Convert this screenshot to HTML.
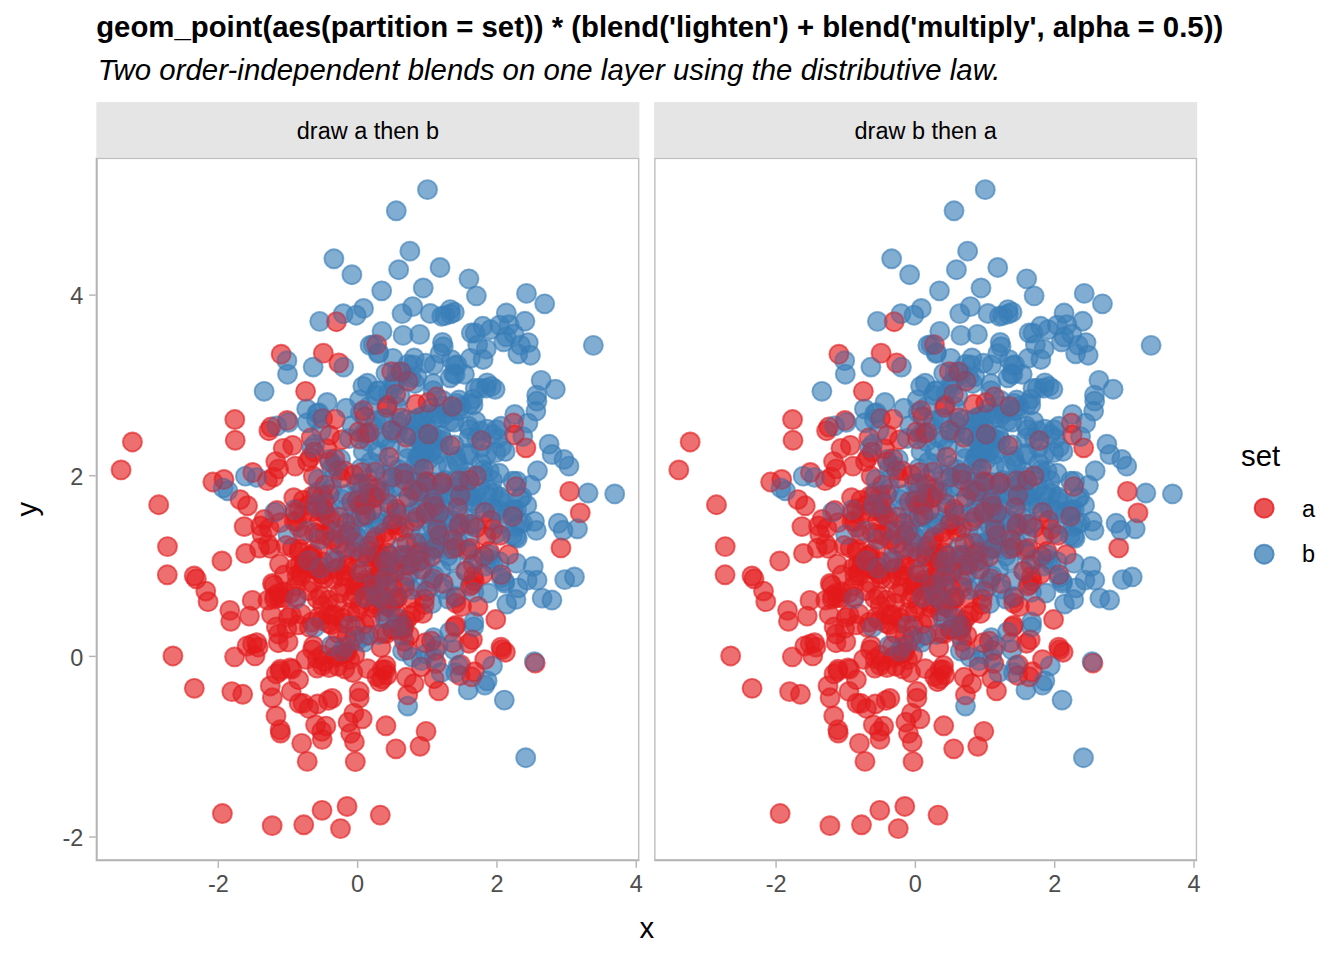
<!DOCTYPE html>
<html><head><meta charset="utf-8"><title>ggblend</title>
<style>
html,body{margin:0;padding:0;background:#fff;}
svg{display:block}
text{font-family:"Liberation Sans",Arial,sans-serif;}
.pa circle{fill:#E41A1C;stroke:#E41A1C;fill-opacity:.5;stroke-opacity:.5;stroke-width:1.89}
.pb circle{fill:#377EB8;stroke:#377EB8;fill-opacity:.5;stroke-opacity:.5;stroke-width:1.89}
.l1,.l2{isolation:isolate}
.l2{opacity:.5}
.lighten{mix-blend-mode:lighten}
.multiply{mix-blend-mode:multiply}
.tick{stroke:#B3B3B3;stroke-width:1.42}
.axl{font-size:23.47px;fill:#4D4D4D}
</style></head><body>
<svg width="1344" height="960" viewBox="0 0 1344 960">
<rect width="1344" height="960" fill="#fff"/>

<defs>
<g id="A" class="pa"><circle cx="177.15" cy="319.44" r="9.48"/><circle cx="280.56" cy="519.00" r="9.48"/><circle cx="336.77" cy="344.28" r="9.48"/><circle cx="97.84" cy="418.25" r="9.48"/><circle cx="291.12" cy="247.38" r="9.48"/><circle cx="296.48" cy="430.37" r="9.48"/><circle cx="221.20" cy="546.30" r="9.48"/><circle cx="223.16" cy="363.96" r="9.48"/><circle cx="221.92" cy="376.36" r="9.48"/><circle cx="199.24" cy="409.97" r="9.48"/><circle cx="227.99" cy="503.81" r="9.48"/><circle cx="191.69" cy="484.15" r="9.48"/><circle cx="207.16" cy="409.52" r="9.48"/><circle cx="265.72" cy="314.62" r="9.48"/><circle cx="328.06" cy="441.30" r="9.48"/><circle cx="253.55" cy="487.09" r="9.48"/><circle cx="225.64" cy="652.62" r="9.48"/><circle cx="197.76" cy="363.74" r="9.48"/><circle cx="202.92" cy="369.79" r="9.48"/><circle cx="429.50" cy="290.14" r="9.48"/><circle cx="270.57" cy="275.91" r="9.48"/><circle cx="227.05" cy="421.30" r="9.48"/><circle cx="230.55" cy="291.10" r="9.48"/><circle cx="293.24" cy="408.26" r="9.48"/><circle cx="212.91" cy="469.47" r="9.48"/><circle cx="160.36" cy="484.99" r="9.48"/><circle cx="301.27" cy="439.72" r="9.48"/><circle cx="189.93" cy="387.84" r="9.48"/><circle cx="260.18" cy="410.86" r="9.48"/><circle cx="196.04" cy="390.24" r="9.48"/><circle cx="338.01" cy="390.41" r="9.48"/><circle cx="228.10" cy="343.84" r="9.48"/><circle cx="211.82" cy="433.05" r="9.48"/><circle cx="226.32" cy="260.68" r="9.48"/><circle cx="147.76" cy="368.85" r="9.48"/><circle cx="179.90" cy="516.18" r="9.48"/><circle cx="109.38" cy="433.37" r="9.48"/><circle cx="167.83" cy="361.79" r="9.48"/><circle cx="240.73" cy="445.51" r="9.48"/><circle cx="228.78" cy="377.22" r="9.48"/><circle cx="362.19" cy="369.15" r="9.48"/><circle cx="186.80" cy="290.66" r="9.48"/><circle cx="201.65" cy="467.24" r="9.48"/><circle cx="241.68" cy="409.91" r="9.48"/><circle cx="191.97" cy="459.65" r="9.48"/><circle cx="193.77" cy="510.18" r="9.48"/><circle cx="184.10" cy="575.37" r="9.48"/><circle cx="174.03" cy="390.72" r="9.48"/><circle cx="224.74" cy="354.05" r="9.48"/><circle cx="226.62" cy="350.65" r="9.48"/><circle cx="135.43" cy="533.92" r="9.48"/><circle cx="220.69" cy="510.41" r="9.48"/><circle cx="183.99" cy="511.45" r="9.48"/><circle cx="190.54" cy="470.58" r="9.48"/><circle cx="249.93" cy="393.01" r="9.48"/><circle cx="300.45" cy="354.69" r="9.48"/><circle cx="376.01" cy="481.99" r="9.48"/><circle cx="207.36" cy="667.08" r="9.48"/><circle cx="373.09" cy="322.24" r="9.48"/><circle cx="180.59" cy="352.81" r="9.48"/><circle cx="306.97" cy="471.68" r="9.48"/><circle cx="438.78" cy="505.35" r="9.48"/><circle cx="258.81" cy="435.48" r="9.48"/><circle cx="214.59" cy="398.62" r="9.48"/><circle cx="260.70" cy="343.06" r="9.48"/><circle cx="385.01" cy="282.83" r="9.48"/><circle cx="181.92" cy="485.05" r="9.48"/><circle cx="356.51" cy="382.12" r="9.48"/><circle cx="353.84" cy="287.88" r="9.48"/><circle cx="284.67" cy="489.79" r="9.48"/><circle cx="261.71" cy="428.50" r="9.48"/><circle cx="229.51" cy="568.37" r="9.48"/><circle cx="235.70" cy="382.42" r="9.48"/><circle cx="306.39" cy="466.29" r="9.48"/><circle cx="405.43" cy="491.92" r="9.48"/><circle cx="250.55" cy="478.83" r="9.48"/><circle cx="164.36" cy="368.24" r="9.48"/><circle cx="210.83" cy="603.69" r="9.48"/><circle cx="279.22" cy="446.81" r="9.48"/><circle cx="239.15" cy="499.94" r="9.48"/><circle cx="248.85" cy="495.28" r="9.48"/><circle cx="249.39" cy="365.51" r="9.48"/><circle cx="165.65" cy="376.61" r="9.48"/><circle cx="249.13" cy="418.05" r="9.48"/><circle cx="320.45" cy="359.83" r="9.48"/><circle cx="309.82" cy="462.76" r="9.48"/><circle cx="299.54" cy="591.12" r="9.48"/><circle cx="233.18" cy="304.12" r="9.48"/><circle cx="247.89" cy="429.22" r="9.48"/><circle cx="178.03" cy="441.36" r="9.48"/><circle cx="257.53" cy="394.16" r="9.48"/><circle cx="279.01" cy="339.21" r="9.48"/><circle cx="380.06" cy="369.90" r="9.48"/><circle cx="330.99" cy="324.63" r="9.48"/><circle cx="226.71" cy="404.21" r="9.48"/><circle cx="286.00" cy="453.93" r="9.48"/><circle cx="182.20" cy="435.52" r="9.48"/><circle cx="322.40" cy="334.06" r="9.48"/><circle cx="329.00" cy="485.08" r="9.48"/><circle cx="408.98" cy="494.51" r="9.48"/><circle cx="290.10" cy="380.07" r="9.48"/><circle cx="228.17" cy="353.07" r="9.48"/><circle cx="265.83" cy="561.11" r="9.48"/><circle cx="226.23" cy="337.51" r="9.48"/><circle cx="203.70" cy="407.30" r="9.48"/><circle cx="272.86" cy="424.75" r="9.48"/><circle cx="198.80" cy="308.41" r="9.48"/><circle cx="272.95" cy="274.77" r="9.48"/><circle cx="285.96" cy="512.01" r="9.48"/><circle cx="257.60" cy="317.01" r="9.48"/><circle cx="247.58" cy="465.47" r="9.48"/><circle cx="216.02" cy="396.43" r="9.48"/><circle cx="183.93" cy="364.95" r="9.48"/><circle cx="320.39" cy="396.35" r="9.48"/><circle cx="262.79" cy="540.50" r="9.48"/><circle cx="319.12" cy="454.12" r="9.48"/><circle cx="174.56" cy="269.32" r="9.48"/><circle cx="273.00" cy="392.78" r="9.48"/><circle cx="308.12" cy="483.87" r="9.48"/><circle cx="259.40" cy="467.62" r="9.48"/><circle cx="247.90" cy="312.87" r="9.48"/><circle cx="206.77" cy="377.12" r="9.48"/><circle cx="404.59" cy="489.41" r="9.48"/><circle cx="313.51" cy="407.82" r="9.48"/><circle cx="388.29" cy="354.49" r="9.48"/><circle cx="266.81" cy="252.81" r="9.48"/><circle cx="217.25" cy="488.02" r="9.48"/><circle cx="155.82" cy="442.70" r="9.48"/><circle cx="216.92" cy="318.42" r="9.48"/><circle cx="276.99" cy="449.85" r="9.48"/><circle cx="331.84" cy="276.50" r="9.48"/><circle cx="278.84" cy="314.16" r="9.48"/><circle cx="179.60" cy="558.22" r="9.48"/><circle cx="307.81" cy="370.09" r="9.48"/><circle cx="146.30" cy="536.56" r="9.48"/><circle cx="235.75" cy="540.67" r="9.48"/><circle cx="239.21" cy="402.02" r="9.48"/><circle cx="125.53" cy="403.26" r="9.48"/><circle cx="325.32" cy="411.34" r="9.48"/><circle cx="217.85" cy="294.20" r="9.48"/><circle cx="237.96" cy="381.74" r="9.48"/><circle cx="358.41" cy="469.17" r="9.48"/><circle cx="305.58" cy="397.58" r="9.48"/><circle cx="253.68" cy="454.84" r="9.48"/><circle cx="297.02" cy="414.53" r="9.48"/><circle cx="289.04" cy="512.07" r="9.48"/><circle cx="377.06" cy="418.79" r="9.48"/><circle cx="280.45" cy="399.08" r="9.48"/><circle cx="296.50" cy="471.76" r="9.48"/><circle cx="285.44" cy="404.66" r="9.48"/><circle cx="234.96" cy="466.98" r="9.48"/><circle cx="268.03" cy="466.55" r="9.48"/><circle cx="375.38" cy="426.85" r="9.48"/><circle cx="200.24" cy="364.05" r="9.48"/><circle cx="269.71" cy="426.93" r="9.48"/><circle cx="356.11" cy="391.16" r="9.48"/><circle cx="244.89" cy="320.77" r="9.48"/><circle cx="187.86" cy="434.15" r="9.48"/><circle cx="200.65" cy="417.74" r="9.48"/><circle cx="234.06" cy="362.21" r="9.48"/><circle cx="202.21" cy="522.01" r="9.48"/><circle cx="243.08" cy="359.27" r="9.48"/><circle cx="232.37" cy="456.70" r="9.48"/><circle cx="248.48" cy="511.17" r="9.48"/><circle cx="289.58" cy="568.06" r="9.48"/><circle cx="304.74" cy="472.96" r="9.48"/><circle cx="378.13" cy="514.07" r="9.48"/><circle cx="256.45" cy="514.81" r="9.48"/><circle cx="238.88" cy="261.41" r="9.48"/><circle cx="363.69" cy="517.86" r="9.48"/><circle cx="379.94" cy="318.29" r="9.48"/><circle cx="264.24" cy="359.14" r="9.48"/><circle cx="238.06" cy="488.29" r="9.48"/><circle cx="134.31" cy="463.59" r="9.48"/><circle cx="359.53" cy="445.43" r="9.48"/><circle cx="202.89" cy="391.18" r="9.48"/><circle cx="182.96" cy="439.84" r="9.48"/><circle cx="473.24" cy="333.70" r="9.48"/><circle cx="277.60" cy="434.82" r="9.48"/><circle cx="258.91" cy="603.95" r="9.48"/><circle cx="70.92" cy="417.07" r="9.48"/><circle cx="254.28" cy="575.64" r="9.48"/><circle cx="329.22" cy="323.68" r="9.48"/><circle cx="290.06" cy="475.91" r="9.48"/><circle cx="324.78" cy="509.11" r="9.48"/><circle cx="399.41" cy="461.80" r="9.48"/><circle cx="342.66" cy="355.53" r="9.48"/><circle cx="225.80" cy="581.66" r="9.48"/><circle cx="310.28" cy="385.46" r="9.48"/><circle cx="247.41" cy="496.19" r="9.48"/><circle cx="223.75" cy="409.15" r="9.48"/><circle cx="62.32" cy="347.05" r="9.48"/><circle cx="206.23" cy="356.93" r="9.48"/><circle cx="295.21" cy="272.64" r="9.48"/><circle cx="412.24" cy="396.72" r="9.48"/><circle cx="296.11" cy="471.71" r="9.48"/><circle cx="304.43" cy="213.87" r="9.48"/><circle cx="193.95" cy="435.77" r="9.48"/><circle cx="272.56" cy="335.44" r="9.48"/><circle cx="116.47" cy="324.30" r="9.48"/><circle cx="295.03" cy="367.30" r="9.48"/><circle cx="309.76" cy="279.64" r="9.48"/><circle cx="274.15" cy="427.26" r="9.48"/><circle cx="310.04" cy="519.60" r="9.48"/><circle cx="282.94" cy="440.95" r="9.48"/><circle cx="314.20" cy="457.80" r="9.48"/><circle cx="389.57" cy="378.76" r="9.48"/><circle cx="338.71" cy="492.67" r="9.48"/><circle cx="263.51" cy="346.89" r="9.48"/><circle cx="183.61" cy="513.50" r="9.48"/><circle cx="290.35" cy="249.84" r="9.48"/><circle cx="233.35" cy="277.46" r="9.48"/><circle cx="365.26" cy="448.92" r="9.48"/><circle cx="149.29" cy="395.73" r="9.48"/><circle cx="232.27" cy="442.13" r="9.48"/><circle cx="290.63" cy="517.34" r="9.48"/><circle cx="250.66" cy="648.75" r="9.48"/><circle cx="219.01" cy="410.65" r="9.48"/><circle cx="240.01" cy="411.49" r="9.48"/><circle cx="305.08" cy="260.05" r="9.48"/><circle cx="323.58" cy="588.60" r="9.48"/><circle cx="307.22" cy="468.19" r="9.48"/><circle cx="419.59" cy="328.90" r="9.48"/><circle cx="342.97" cy="377.46" r="9.48"/><circle cx="281.27" cy="397.39" r="9.48"/><circle cx="215.28" cy="464.45" r="9.48"/><circle cx="464.56" cy="390.23" r="9.48"/><circle cx="308.42" cy="429.69" r="9.48"/><circle cx="213.57" cy="398.12" r="9.48"/><circle cx="274.22" cy="460.58" r="9.48"/><circle cx="238.64" cy="301.03" r="9.48"/><circle cx="242.10" cy="312.65" r="9.48"/><circle cx="196.21" cy="287.65" r="9.48"/><circle cx="269.37" cy="441.54" r="9.48"/><circle cx="283.46" cy="435.87" r="9.48"/><circle cx="186.18" cy="440.02" r="9.48"/><circle cx="36.03" cy="284.27" r="9.48"/><circle cx="243.48" cy="435.45" r="9.48"/><circle cx="263.29" cy="399.56" r="9.48"/><circle cx="302.63" cy="373.95" r="9.48"/><circle cx="265.35" cy="347.13" r="9.48"/><circle cx="290.03" cy="432.56" r="9.48"/><circle cx="184.77" cy="196.50" r="9.48"/><circle cx="310.77" cy="492.15" r="9.48"/><circle cx="311.30" cy="537.22" r="9.48"/><circle cx="278.76" cy="404.56" r="9.48"/><circle cx="355.77" cy="248.75" r="9.48"/><circle cx="289.40" cy="403.62" r="9.48"/><circle cx="279.65" cy="398.47" r="9.48"/><circle cx="279.90" cy="330.42" r="9.48"/><circle cx="291.67" cy="417.32" r="9.48"/><circle cx="335.07" cy="399.02" r="9.48"/><circle cx="292.73" cy="299.24" r="9.48"/><circle cx="307.43" cy="399.91" r="9.48"/><circle cx="182.08" cy="476.32" r="9.48"/><circle cx="235.42" cy="372.71" r="9.48"/><circle cx="364.11" cy="506.96" r="9.48"/><circle cx="175.98" cy="540.09" r="9.48"/><circle cx="279.21" cy="419.46" r="9.48"/><circle cx="289.44" cy="507.81" r="9.48"/><circle cx="329.20" cy="355.91" r="9.48"/><circle cx="236.93" cy="421.65" r="9.48"/><circle cx="272.28" cy="477.59" r="9.48"/><circle cx="138.41" cy="261.81" r="9.48"/><circle cx="284.82" cy="418.31" r="9.48"/><circle cx="214.80" cy="279.98" r="9.48"/><circle cx="244.61" cy="418.63" r="9.48"/><circle cx="178.50" cy="438.12" r="9.48"/><circle cx="288.04" cy="374.65" r="9.48"/><circle cx="307.66" cy="315.37" r="9.48"/><circle cx="240.01" cy="164.01" r="9.48"/><circle cx="388.35" cy="501.85" r="9.48"/><circle cx="307.94" cy="424.95" r="9.48"/><circle cx="327.31" cy="311.04" r="9.48"/><circle cx="403.98" cy="377.53" r="9.48"/><circle cx="215.88" cy="425.30" r="9.48"/><circle cx="317.56" cy="526.05" r="9.48"/><circle cx="329.95" cy="433.55" r="9.48"/><circle cx="260.80" cy="425.07" r="9.48"/><circle cx="283.45" cy="415.77" r="9.48"/><circle cx="190.75" cy="262.77" r="9.48"/><circle cx="293.98" cy="450.10" r="9.48"/><circle cx="212.41" cy="550.72" r="9.48"/><circle cx="317.91" cy="363.55" r="9.48"/><circle cx="204.71" cy="418.49" r="9.48"/><circle cx="283.48" cy="426.84" r="9.48"/><circle cx="202.27" cy="350.98" r="9.48"/><circle cx="244.11" cy="670.90" r="9.48"/><circle cx="153.07" cy="458.39" r="9.48"/><circle cx="270.18" cy="422.24" r="9.48"/><circle cx="329.87" cy="353.71" r="9.48"/><circle cx="274.00" cy="431.95" r="9.48"/><circle cx="138.21" cy="499.16" r="9.48"/><circle cx="218.01" cy="374.73" r="9.48"/><circle cx="376.58" cy="406.63" r="9.48"/><circle cx="387.29" cy="398.40" r="9.48"/><circle cx="179.39" cy="303.92" r="9.48"/><circle cx="235.69" cy="457.35" r="9.48"/><circle cx="285.86" cy="521.21" r="9.48"/><circle cx="283.46" cy="523.99" r="9.48"/><circle cx="220.84" cy="500.86" r="9.48"/><circle cx="194.83" cy="533.71" r="9.48"/><circle cx="248.73" cy="412.83" r="9.48"/><circle cx="331.57" cy="244.82" r="9.48"/><circle cx="262.88" cy="417.37" r="9.48"/><circle cx="216.02" cy="338.18" r="9.48"/><circle cx="226.10" cy="507.96" r="9.48"/><circle cx="373.68" cy="428.40" r="9.48"/><circle cx="230.10" cy="357.25" r="9.48"/><circle cx="314.39" cy="440.44" r="9.48"/><circle cx="363.74" cy="337.46" r="9.48"/><circle cx="292.13" cy="345.70" r="9.48"/><circle cx="231.86" cy="465.53" r="9.48"/><circle cx="258.45" cy="478.10" r="9.48"/><circle cx="226.94" cy="195.43" r="9.48"/><circle cx="346.75" cy="425.77" r="9.48"/><circle cx="250.81" cy="407.78" r="9.48"/><circle cx="369.19" cy="413.31" r="9.48"/><circle cx="222.11" cy="459.70" r="9.48"/><circle cx="216.16" cy="492.10" r="9.48"/><circle cx="271.20" cy="510.96" r="9.48"/><circle cx="262.92" cy="325.84" r="9.48"/><circle cx="226.09" cy="497.44" r="9.48"/><circle cx="151.08" cy="348.10" r="9.48"/><circle cx="263.33" cy="281.34" r="9.48"/><circle cx="211.32" cy="303.81" r="9.48"/><circle cx="336.64" cy="420.91" r="9.48"/><circle cx="194.87" cy="457.09" r="9.48"/><circle cx="339.70" cy="505.82" r="9.48"/><circle cx="216.02" cy="410.06" r="9.48"/><circle cx="281.60" cy="429.39" r="9.48"/><circle cx="323.83" cy="394.27" r="9.48"/><circle cx="225.10" cy="462.93" r="9.48"/><circle cx="299.85" cy="351.57" r="9.48"/><circle cx="255.10" cy="343.88" r="9.48"/><circle cx="182.16" cy="311.21" r="9.48"/><circle cx="242.42" cy="205.19" r="9.48"/><circle cx="374.06" cy="390.51" r="9.48"/><circle cx="246.32" cy="460.36" r="9.48"/><circle cx="204.27" cy="415.36" r="9.48"/><circle cx="257.47" cy="555.41" r="9.48"/><circle cx="284.23" cy="396.65" r="9.48"/><circle cx="327.77" cy="446.83" r="9.48"/><circle cx="340.91" cy="371.71" r="9.48"/><circle cx="268.23" cy="432.66" r="9.48"/><circle cx="342.35" cy="533.11" r="9.48"/><circle cx="208.00" cy="405.08" r="9.48"/><circle cx="97.93" cy="530.60" r="9.48"/><circle cx="228.38" cy="327.37" r="9.48"/><circle cx="225.30" cy="573.60" r="9.48"/><circle cx="99.91" cy="421.20" r="9.48"/><circle cx="300.41" cy="367.02" r="9.48"/><circle cx="206.64" cy="545.63" r="9.48"/><circle cx="245.49" cy="282.02" r="9.48"/><circle cx="150.68" cy="488.34" r="9.48"/><circle cx="299.37" cy="454.11" r="9.48"/><circle cx="392.96" cy="393.63" r="9.48"/><circle cx="200.07" cy="438.83" r="9.48"/><circle cx="253.39" cy="501.95" r="9.48"/><circle cx="396.97" cy="371.41" r="9.48"/><circle cx="326.28" cy="455.73" r="9.48"/><circle cx="394.48" cy="362.64" r="9.48"/><circle cx="260.87" cy="453.97" r="9.48"/><circle cx="250.63" cy="494.84" r="9.48"/><circle cx="225.73" cy="416.93" r="9.48"/><circle cx="361.16" cy="349.73" r="9.48"/><circle cx="171.67" cy="386.50" r="9.48"/><circle cx="282.64" cy="413.70" r="9.48"/><circle cx="258.01" cy="584.30" r="9.48"/><circle cx="418.08" cy="277.29" r="9.48"/><circle cx="218.88" cy="411.99" r="9.48"/><circle cx="156.10" cy="486.41" r="9.48"/><circle cx="277.44" cy="426.60" r="9.48"/><circle cx="258.47" cy="384.79" r="9.48"/><circle cx="202.78" cy="545.51" r="9.48"/><circle cx="270.45" cy="343.60" r="9.48"/><circle cx="242.04" cy="386.09" r="9.48"/><circle cx="213.95" cy="299.75" r="9.48"/><circle cx="296.12" cy="319.33" r="9.48"/><circle cx="238.13" cy="456.97" r="9.48"/><circle cx="133.42" cy="452.66" r="9.48"/><circle cx="76.53" cy="498.29" r="9.48"/><circle cx="220.79" cy="441.05" r="9.48"/><circle cx="362.52" cy="323.09" r="9.48"/><circle cx="319.61" cy="246.52" r="9.48"/><circle cx="345.86" cy="324.53" r="9.48"/><circle cx="329.67" cy="573.66" r="9.48"/><circle cx="283.23" cy="334.15" r="9.48"/><circle cx="156.26" cy="314.79" r="9.48"/><circle cx="275.55" cy="352.62" r="9.48"/><circle cx="372.48" cy="485.60" r="9.48"/><circle cx="24.68" cy="312.24" r="9.48"/><circle cx="206.81" cy="342.50" r="9.48"/><circle cx="338.02" cy="348.53" r="9.48"/><circle cx="298.06" cy="442.83" r="9.48"/><circle cx="316.22" cy="331.98" r="9.48"/><circle cx="293.07" cy="398.30" r="9.48"/><circle cx="298.76" cy="414.50" r="9.48"/><circle cx="262.25" cy="274.07" r="9.48"/><circle cx="197.39" cy="339.99" r="9.48"/><circle cx="175.78" cy="667.96" r="9.48"/><circle cx="263.75" cy="446.91" r="9.48"/><circle cx="231.88" cy="542.72" r="9.48"/><circle cx="198.59" cy="355.20" r="9.48"/><circle cx="290.31" cy="448.36" r="9.48"/><circle cx="271.92" cy="326.98" r="9.48"/><circle cx="363.16" cy="366.13" r="9.48"/><circle cx="183.11" cy="406.39" r="9.48"/><circle cx="225.17" cy="416.07" r="9.48"/><circle cx="256.01" cy="441.01" r="9.48"/><circle cx="163.17" cy="390.36" r="9.48"/><circle cx="241.40" cy="508.48" r="9.48"/><circle cx="211.90" cy="347.62" r="9.48"/><circle cx="111.64" cy="443.98" r="9.48"/><circle cx="241.46" cy="475.57" r="9.48"/><circle cx="224.03" cy="437.83" r="9.48"/><circle cx="340.15" cy="239.07" r="9.48"/><circle cx="219.16" cy="567.16" r="9.48"/><circle cx="300.06" cy="439.89" r="9.48"/><circle cx="271.17" cy="398.75" r="9.48"/><circle cx="175.08" cy="456.94" r="9.48"/><circle cx="287.29" cy="445.53" r="9.48"/><circle cx="253.84" cy="373.85" r="9.48"/><circle cx="272.80" cy="388.28" r="9.48"/><circle cx="307.07" cy="469.23" r="9.48"/><circle cx="269.17" cy="357.13" r="9.48"/><circle cx="371.64" cy="392.17" r="9.48"/><circle cx="269.28" cy="346.39" r="9.48"/><circle cx="173.89" cy="528.26" r="9.48"/><circle cx="312.91" cy="477.74" r="9.48"/><circle cx="176.05" cy="425.79" r="9.48"/><circle cx="127.57" cy="321.76" r="9.48"/><circle cx="204.82" cy="456.16" r="9.48"/><circle cx="209.36" cy="501.67" r="9.48"/><circle cx="218.92" cy="338.68" r="9.48"/><circle cx="373.15" cy="366.35" r="9.48"/><circle cx="375.16" cy="519.08" r="9.48"/><circle cx="311.81" cy="223.53" r="9.48"/><circle cx="172.50" cy="273.03" r="9.48"/><circle cx="262.84" cy="533.83" r="9.48"/><circle cx="295.16" cy="213.90" r="9.48"/><circle cx="251.69" cy="564.55" r="9.48"/><circle cx="273.19" cy="399.17" r="9.48"/><circle cx="195.42" cy="511.46" r="9.48"/><circle cx="171.54" cy="442.43" r="9.48"/><circle cx="359.29" cy="439.88" r="9.48"/><circle cx="279.86" cy="379.22" r="9.48"/><circle cx="232.78" cy="509.93" r="9.48"/><circle cx="283.89" cy="657.39" r="9.48"/><circle cx="404.89" cy="417.03" r="9.48"/><circle cx="286.49" cy="475.82" r="9.48"/><circle cx="359.54" cy="389.34" r="9.48"/><circle cx="356.49" cy="485.02" r="9.48"/><circle cx="232.87" cy="336.83" r="9.48"/><circle cx="314.35" cy="405.75" r="9.48"/><circle cx="215.87" cy="353.89" r="9.48"/><circle cx="158.59" cy="498.24" r="9.48"/><circle cx="177.53" cy="427.47" r="9.48"/><circle cx="250.87" cy="377.31" r="9.48"/><circle cx="386.40" cy="416.45" r="9.48"/><circle cx="268.53" cy="258.99" r="9.48"/><circle cx="205.31" cy="585.66" r="9.48"/><circle cx="277.28" cy="340.09" r="9.48"/><circle cx="309.85" cy="407.08" r="9.48"/><circle cx="171.02" cy="322.97" r="9.48"/><circle cx="187.77" cy="417.31" r="9.48"/><circle cx="125.99" cy="655.83" r="9.48"/><circle cx="172.80" cy="370.42" r="9.48"/><circle cx="199.42" cy="428.10" r="9.48"/><circle cx="240.90" cy="497.74" r="9.48"/><circle cx="359.45" cy="467.67" r="9.48"/><circle cx="323.13" cy="403.35" r="9.48"/><circle cx="280.25" cy="186.92" r="9.48"/><circle cx="221.76" cy="391.39" r="9.48"/><circle cx="258.43" cy="496.86" r="9.48"/><circle cx="299.37" cy="236.45" r="9.48"/><circle cx="226.12" cy="447.99" r="9.48"/><circle cx="335.00" cy="483.32" r="9.48"/><circle cx="337.67" cy="521.03" r="9.48"/><circle cx="179.98" cy="469.24" r="9.48"/><circle cx="209.21" cy="233.60" r="9.48"/><circle cx="345.29" cy="326.50" r="9.48"/><circle cx="143.71" cy="341.86" r="9.48"/><circle cx="290.47" cy="395.14" r="9.48"/><circle cx="277.50" cy="382.81" r="9.48"/><circle cx="483.84" cy="355.16" r="9.48"/><circle cx="71.10" cy="388.89" r="9.48"/><circle cx="202.67" cy="394.38" r="9.48"/><circle cx="308.18" cy="322.24" r="9.48"/><circle cx="377.86" cy="423.36" r="9.48"/><circle cx="319.72" cy="385.35" r="9.48"/><circle cx="161.74" cy="489.44" r="9.48"/><circle cx="417.21" cy="265.32" r="9.48"/><circle cx="138.83" cy="282.59" r="9.48"/><circle cx="183.71" cy="572.06" r="9.48"/><circle cx="258.23" cy="427.92" r="9.48"/><circle cx="416.25" cy="358.72" r="9.48"/><circle cx="296.50" cy="364.78" r="9.48"/><circle cx="312.11" cy="339.66" r="9.48"/><circle cx="381.60" cy="448.63" r="9.48"/></g>
<g id="B" class="pb"><circle cx="246.93" cy="156.03" r="9.48"/><circle cx="351.88" cy="441.31" r="9.48"/><circle cx="223.68" cy="381.96" r="9.48"/><circle cx="375.14" cy="368.31" r="9.48"/><circle cx="379.85" cy="346.07" r="9.48"/><circle cx="198.13" cy="352.04" r="9.48"/><circle cx="396.29" cy="276.65" r="9.48"/><circle cx="315.25" cy="431.97" r="9.48"/><circle cx="283.95" cy="365.70" r="9.48"/><circle cx="361.94" cy="368.35" r="9.48"/><circle cx="420.09" cy="351.88" r="9.48"/><circle cx="439.90" cy="372.65" r="9.48"/><circle cx="247.26" cy="209.40" r="9.48"/><circle cx="300.40" cy="248.62" r="9.48"/><circle cx="341.08" cy="296.54" r="9.48"/><circle cx="335.48" cy="445.87" r="9.48"/><circle cx="299.89" cy="53.10" r="9.48"/><circle cx="167.75" cy="233.62" r="9.48"/><circle cx="311.50" cy="206.62" r="9.48"/><circle cx="248.57" cy="488.89" r="9.48"/><circle cx="333.19" cy="338.17" r="9.48"/><circle cx="272.54" cy="248.69" r="9.48"/><circle cx="322.69" cy="283.03" r="9.48"/><circle cx="279.24" cy="263.05" r="9.48"/><circle cx="302.44" cy="264.73" r="9.48"/><circle cx="304.57" cy="357.37" r="9.48"/><circle cx="423.41" cy="340.71" r="9.48"/><circle cx="380.79" cy="401.72" r="9.48"/><circle cx="314.71" cy="219.85" r="9.48"/><circle cx="245.47" cy="493.64" r="9.48"/><circle cx="403.85" cy="343.41" r="9.48"/><circle cx="230.83" cy="244.72" r="9.48"/><circle cx="248.52" cy="336.82" r="9.48"/><circle cx="276.82" cy="187.04" r="9.48"/><circle cx="263.16" cy="242.06" r="9.48"/><circle cx="267.94" cy="396.26" r="9.48"/><circle cx="420.54" cy="323.47" r="9.48"/><circle cx="323.49" cy="317.02" r="9.48"/><circle cx="281.02" cy="293.76" r="9.48"/><circle cx="377.67" cy="365.77" r="9.48"/><circle cx="344.65" cy="373.80" r="9.48"/><circle cx="245.90" cy="341.76" r="9.48"/><circle cx="291.81" cy="235.66" r="9.48"/><circle cx="368.06" cy="216.58" r="9.48"/><circle cx="466.73" cy="372.57" r="9.48"/><circle cx="441.07" cy="313.07" r="9.48"/><circle cx="389.24" cy="408.44" r="9.48"/><circle cx="329.98" cy="386.54" r="9.48"/><circle cx="210.68" cy="373.29" r="9.48"/><circle cx="279.98" cy="436.99" r="9.48"/><circle cx="315.88" cy="499.37" r="9.48"/><circle cx="365.03" cy="248.70" r="9.48"/><circle cx="335.02" cy="281.42" r="9.48"/><circle cx="334.95" cy="393.18" r="9.48"/><circle cx="458.94" cy="231.53" r="9.48"/><circle cx="357.89" cy="154.53" r="9.48"/><circle cx="311.34" cy="548.37" r="9.48"/><circle cx="301.04" cy="214.18" r="9.48"/><circle cx="337.53" cy="207.17" r="9.48"/><circle cx="274.23" cy="304.33" r="9.48"/><circle cx="426.19" cy="365.31" r="9.48"/><circle cx="310.86" cy="417.56" r="9.48"/><circle cx="294.07" cy="397.52" r="9.48"/><circle cx="270.08" cy="375.57" r="9.48"/><circle cx="396.07" cy="508.27" r="9.48"/><circle cx="241.92" cy="376.43" r="9.48"/><circle cx="298.24" cy="228.94" r="9.48"/><circle cx="352.65" cy="386.24" r="9.48"/><circle cx="323.34" cy="176.70" r="9.48"/><circle cx="348.35" cy="322.59" r="9.48"/><circle cx="239.21" cy="308.04" r="9.48"/><circle cx="300.93" cy="275.12" r="9.48"/><circle cx="212.19" cy="402.87" r="9.48"/><circle cx="272.23" cy="387.97" r="9.48"/><circle cx="410.87" cy="356.32" r="9.48"/><circle cx="348.50" cy="157.94" r="9.48"/><circle cx="336.83" cy="279.54" r="9.48"/><circle cx="265.85" cy="326.60" r="9.48"/><circle cx="292.10" cy="418.91" r="9.48"/><circle cx="260.09" cy="325.96" r="9.48"/><circle cx="334.61" cy="282.61" r="9.48"/><circle cx="384.18" cy="350.64" r="9.48"/><circle cx="351.73" cy="398.26" r="9.48"/><circle cx="287.87" cy="403.54" r="9.48"/><circle cx="369.39" cy="337.93" r="9.48"/><circle cx="357.90" cy="287.16" r="9.48"/><circle cx="389.62" cy="230.46" r="9.48"/><circle cx="300.19" cy="438.68" r="9.48"/><circle cx="248.74" cy="390.40" r="9.48"/><circle cx="324.99" cy="502.92" r="9.48"/><circle cx="351.98" cy="308.13" r="9.48"/><circle cx="439.48" cy="253.39" r="9.48"/><circle cx="326.03" cy="295.11" r="9.48"/><circle cx="360.63" cy="207.09" r="9.48"/><circle cx="325.09" cy="265.37" r="9.48"/><circle cx="481.09" cy="371.09" r="9.48"/><circle cx="424.08" cy="187.41" r="9.48"/><circle cx="314.70" cy="278.02" r="9.48"/><circle cx="322.01" cy="265.87" r="9.48"/><circle cx="329.38" cy="401.32" r="9.48"/><circle cx="338.77" cy="340.58" r="9.48"/><circle cx="291.52" cy="428.42" r="9.48"/><circle cx="336.51" cy="324.62" r="9.48"/><circle cx="282.42" cy="194.79" r="9.48"/><circle cx="254.53" cy="359.39" r="9.48"/><circle cx="386.92" cy="312.18" r="9.48"/><circle cx="376.62" cy="247.26" r="9.48"/><circle cx="291.32" cy="461.46" r="9.48"/><circle cx="419.54" cy="441.74" r="9.48"/><circle cx="317.47" cy="401.84" r="9.48"/><circle cx="311.13" cy="290.89" r="9.48"/><circle cx="264.46" cy="310.80" r="9.48"/><circle cx="329.19" cy="205.46" r="9.48"/><circle cx="321.34" cy="429.56" r="9.48"/><circle cx="335.59" cy="357.72" r="9.48"/><circle cx="361.89" cy="507.87" r="9.48"/><circle cx="394.03" cy="171.86" r="9.48"/><circle cx="353.69" cy="220.13" r="9.48"/><circle cx="400.02" cy="375.94" r="9.48"/><circle cx="405.10" cy="340.90" r="9.48"/><circle cx="126.77" cy="330.24" r="9.48"/><circle cx="305.62" cy="155.91" r="9.48"/><circle cx="370.58" cy="314.60" r="9.48"/><circle cx="252.90" cy="280.76" r="9.48"/><circle cx="263.97" cy="254.88" r="9.48"/><circle cx="349.95" cy="255.77" r="9.48"/><circle cx="300.14" cy="468.99" r="9.48"/><circle cx="210.28" cy="251.23" r="9.48"/><circle cx="393.98" cy="401.53" r="9.48"/><circle cx="272.32" cy="320.93" r="9.48"/><circle cx="357.80" cy="492.18" r="9.48"/><circle cx="359.61" cy="298.71" r="9.48"/><circle cx="436.85" cy="408.84" r="9.48"/><circle cx="344.58" cy="514.86" r="9.48"/><circle cx="377.25" cy="469.12" r="9.48"/><circle cx="410.33" cy="446.38" r="9.48"/><circle cx="302.58" cy="268.34" r="9.48"/><circle cx="215.57" cy="290.03" r="9.48"/><circle cx="340.84" cy="256.19" r="9.48"/><circle cx="423.24" cy="366.11" r="9.48"/><circle cx="232.93" cy="301.65" r="9.48"/><circle cx="401.38" cy="280.89" r="9.48"/><circle cx="326.70" cy="325.75" r="9.48"/><circle cx="337.81" cy="418.02" r="9.48"/><circle cx="306.56" cy="216.09" r="9.48"/><circle cx="403.11" cy="167.42" r="9.48"/><circle cx="430.08" cy="135.71" r="9.48"/><circle cx="440.30" cy="237.45" r="9.48"/><circle cx="263.50" cy="334.97" r="9.48"/><circle cx="383.77" cy="329.60" r="9.48"/><circle cx="304.68" cy="345.64" r="9.48"/><circle cx="262.39" cy="341.81" r="9.48"/><circle cx="358.04" cy="322.71" r="9.48"/><circle cx="329.64" cy="496.23" r="9.48"/><circle cx="386.03" cy="317.05" r="9.48"/><circle cx="455.73" cy="296.81" r="9.48"/><circle cx="403.10" cy="403.90" r="9.48"/><circle cx="282.43" cy="476.76" r="9.48"/><circle cx="340.61" cy="350.58" r="9.48"/><circle cx="429.32" cy="600.00" r="9.48"/><circle cx="412.69" cy="167.01" r="9.48"/><circle cx="220.50" cy="255.70" r="9.48"/><circle cx="396.81" cy="406.27" r="9.48"/><circle cx="307.17" cy="316.70" r="9.48"/><circle cx="287.33" cy="333.01" r="9.48"/><circle cx="254.18" cy="468.01" r="9.48"/><circle cx="309.17" cy="397.40" r="9.48"/><circle cx="378.85" cy="230.84" r="9.48"/><circle cx="430.86" cy="422.45" r="9.48"/><circle cx="340.56" cy="385.93" r="9.48"/><circle cx="325.80" cy="385.36" r="9.48"/><circle cx="316.79" cy="207.24" r="9.48"/><circle cx="397.32" cy="335.30" r="9.48"/><circle cx="255.58" cy="268.00" r="9.48"/><circle cx="348.30" cy="248.39" r="9.48"/><circle cx="402.05" cy="352.39" r="9.48"/><circle cx="404.85" cy="419.99" r="9.48"/><circle cx="359.94" cy="302.70" r="9.48"/><circle cx="249.92" cy="350.45" r="9.48"/><circle cx="273.69" cy="187.74" r="9.48"/><circle cx="280.70" cy="365.02" r="9.48"/><circle cx="230.36" cy="346.12" r="9.48"/><circle cx="333.67" cy="256.40" r="9.48"/><circle cx="416.07" cy="378.00" r="9.48"/><circle cx="160.46" cy="319.69" r="9.48"/><circle cx="383.71" cy="273.21" r="9.48"/><circle cx="316.77" cy="354.58" r="9.48"/><circle cx="277.31" cy="427.50" r="9.48"/><circle cx="384.52" cy="289.82" r="9.48"/><circle cx="376.05" cy="343.34" r="9.48"/><circle cx="337.59" cy="500.49" r="9.48"/><circle cx="266.83" cy="293.72" r="9.48"/><circle cx="281.79" cy="306.16" r="9.48"/><circle cx="218.24" cy="469.69" r="9.48"/><circle cx="461.90" cy="365.56" r="9.48"/><circle cx="320.05" cy="333.88" r="9.48"/><circle cx="278.33" cy="368.34" r="9.48"/><circle cx="180.37" cy="268.22" r="9.48"/><circle cx="300.97" cy="460.41" r="9.48"/><circle cx="292.64" cy="404.25" r="9.48"/><circle cx="233.21" cy="358.70" r="9.48"/><circle cx="496.94" cy="187.66" r="9.48"/><circle cx="391.69" cy="332.09" r="9.48"/><circle cx="223.92" cy="410.34" r="9.48"/><circle cx="409.87" cy="179.12" r="9.48"/><circle cx="403.66" cy="338.94" r="9.48"/><circle cx="371.97" cy="268.22" r="9.48"/><circle cx="358.68" cy="216.75" r="9.48"/><circle cx="340.98" cy="281.08" r="9.48"/><circle cx="374.01" cy="200.63" r="9.48"/><circle cx="258.96" cy="389.50" r="9.48"/><circle cx="285.66" cy="173.68" r="9.48"/><circle cx="261.09" cy="482.70" r="9.48"/><circle cx="319.33" cy="406.16" r="9.48"/><circle cx="341.10" cy="371.03" r="9.48"/><circle cx="372.82" cy="297.01" r="9.48"/><circle cx="367.74" cy="360.83" r="9.48"/><circle cx="431.58" cy="265.40" r="9.48"/><circle cx="372.49" cy="280.13" r="9.48"/><circle cx="418.39" cy="256.75" r="9.48"/><circle cx="407.33" cy="184.17" r="9.48"/><circle cx="289.90" cy="446.79" r="9.48"/><circle cx="383.22" cy="230.46" r="9.48"/><circle cx="362.47" cy="342.04" r="9.48"/><circle cx="339.19" cy="390.60" r="9.48"/><circle cx="267.96" cy="478.56" r="9.48"/><circle cx="371.84" cy="394.75" r="9.48"/><circle cx="335.32" cy="345.11" r="9.48"/><circle cx="306.17" cy="493.30" r="9.48"/><circle cx="395.14" cy="350.58" r="9.48"/><circle cx="400.01" cy="271.99" r="9.48"/><circle cx="391.73" cy="435.29" r="9.48"/><circle cx="149.02" cy="318.50" r="9.48"/><circle cx="268.38" cy="439.53" r="9.48"/><circle cx="396.17" cy="322.73" r="9.48"/><circle cx="278.97" cy="237.25" r="9.48"/><circle cx="359.34" cy="514.94" r="9.48"/><circle cx="343.63" cy="109.76" r="9.48"/><circle cx="408.02" cy="423.53" r="9.48"/><circle cx="281.41" cy="233.13" r="9.48"/><circle cx="326.86" cy="130.29" r="9.48"/><circle cx="354.91" cy="403.31" r="9.48"/><circle cx="419.53" cy="379.07" r="9.48"/><circle cx="318.53" cy="225.79" r="9.48"/><circle cx="351.11" cy="391.90" r="9.48"/><circle cx="237.35" cy="404.51" r="9.48"/><circle cx="374.98" cy="175.26" r="9.48"/><circle cx="345.29" cy="158.53" r="9.48"/><circle cx="375.42" cy="338.57" r="9.48"/><circle cx="302.28" cy="112.04" r="9.48"/><circle cx="448.28" cy="146.13" r="9.48"/><circle cx="321.15" cy="324.26" r="9.48"/><circle cx="339.32" cy="391.57" r="9.48"/><circle cx="323.52" cy="378.87" r="9.48"/><circle cx="389.83" cy="191.44" r="9.48"/><circle cx="277.36" cy="269.29" r="9.48"/><circle cx="344.92" cy="260.06" r="9.48"/><circle cx="370.91" cy="319.21" r="9.48"/><circle cx="244.15" cy="301.55" r="9.48"/><circle cx="346.75" cy="362.19" r="9.48"/><circle cx="289.52" cy="215.53" r="9.48"/><circle cx="430.41" cy="347.51" r="9.48"/><circle cx="379.98" cy="138.17" r="9.48"/><circle cx="210.72" cy="265.07" r="9.48"/><circle cx="394.92" cy="228.80" r="9.48"/><circle cx="346.05" cy="184.79" r="9.48"/><circle cx="291.79" cy="322.31" r="9.48"/><circle cx="306.12" cy="477.70" r="9.48"/><circle cx="242.28" cy="373.12" r="9.48"/><circle cx="357.79" cy="264.48" r="9.48"/><circle cx="216.76" cy="209.38" r="9.48"/><circle cx="321.12" cy="299.26" r="9.48"/><circle cx="362.59" cy="242.28" r="9.48"/><circle cx="336.69" cy="232.89" r="9.48"/><circle cx="390.73" cy="225.21" r="9.48"/><circle cx="334.41" cy="250.55" r="9.48"/><circle cx="491.71" cy="335.35" r="9.48"/><circle cx="271.02" cy="225.52" r="9.48"/><circle cx="438.09" cy="363.60" r="9.48"/><circle cx="218.43" cy="286.59" r="9.48"/><circle cx="255.85" cy="364.07" r="9.48"/><circle cx="268.10" cy="274.91" r="9.48"/><circle cx="224.93" cy="272.82" r="9.48"/><circle cx="434.30" cy="327.60" r="9.48"/><circle cx="402.89" cy="315.60" r="9.48"/><circle cx="426.40" cy="278.89" r="9.48"/><circle cx="288.47" cy="420.22" r="9.48"/><circle cx="336.85" cy="225.88" r="9.48"/><circle cx="408.79" cy="293.75" r="9.48"/><circle cx="404.76" cy="268.52" r="9.48"/><circle cx="369.90" cy="333.37" r="9.48"/><circle cx="341.90" cy="487.72" r="9.48"/><circle cx="249.80" cy="250.48" r="9.48"/><circle cx="352.46" cy="341.56" r="9.48"/><circle cx="318.45" cy="262.23" r="9.48"/><circle cx="285.30" cy="133.10" r="9.48"/><circle cx="440.67" cy="422.44" r="9.48"/><circle cx="282.03" cy="195.87" r="9.48"/><circle cx="347.80" cy="351.26" r="9.48"/><circle cx="366.83" cy="323.33" r="9.48"/><circle cx="404.10" cy="366.13" r="9.48"/><circle cx="356.47" cy="363.09" r="9.48"/><circle cx="468.33" cy="421.94" r="9.48"/><circle cx="361.89" cy="306.66" r="9.48"/><circle cx="296.86" cy="275.36" r="9.48"/><circle cx="338.03" cy="334.91" r="9.48"/><circle cx="377.49" cy="464.31" r="9.48"/><circle cx="178.31" cy="354.44" r="9.48"/><circle cx="324.23" cy="280.78" r="9.48"/><circle cx="333.78" cy="383.16" r="9.48"/><circle cx="314.27" cy="371.36" r="9.48"/><circle cx="334.46" cy="423.70" r="9.48"/><circle cx="192.15" cy="264.65" r="9.48"/><circle cx="355.00" cy="378.45" r="9.48"/><circle cx="331.10" cy="31.95" r="9.48"/><circle cx="296.59" cy="226.57" r="9.48"/><circle cx="131.37" cy="333.06" r="9.48"/><circle cx="302.24" cy="317.85" r="9.48"/><circle cx="339.12" cy="382.85" r="9.48"/><circle cx="325.93" cy="292.66" r="9.48"/><circle cx="288.49" cy="317.41" r="9.48"/><circle cx="353.29" cy="474.29" r="9.48"/><circle cx="267.47" cy="484.56" r="9.48"/><circle cx="379.59" cy="263.77" r="9.48"/><circle cx="388.40" cy="527.41" r="9.48"/><circle cx="397.58" cy="352.41" r="9.48"/><circle cx="386.53" cy="168.58" r="9.48"/><circle cx="306.36" cy="468.25" r="9.48"/><circle cx="329.15" cy="291.45" r="9.48"/><circle cx="417.61" cy="176.28" r="9.48"/><circle cx="373.44" cy="271.83" r="9.48"/><circle cx="355.05" cy="201.93" r="9.48"/><circle cx="419.99" cy="405.45" r="9.48"/><circle cx="287.22" cy="260.95" r="9.48"/><circle cx="332.65" cy="301.53" r="9.48"/><circle cx="421.54" cy="196.13" r="9.48"/><circle cx="313.49" cy="93.42" r="9.48"/><circle cx="340.29" cy="307.71" r="9.48"/><circle cx="320.67" cy="219.10" r="9.48"/><circle cx="416.83" cy="354.44" r="9.48"/><circle cx="340.32" cy="350.49" r="9.48"/><circle cx="335.57" cy="367.99" r="9.48"/><circle cx="283.44" cy="440.41" r="9.48"/><circle cx="301.74" cy="311.44" r="9.48"/><circle cx="221.58" cy="321.59" r="9.48"/><circle cx="359.41" cy="252.87" r="9.48"/><circle cx="389.94" cy="337.48" r="9.48"/><circle cx="237.73" cy="400.76" r="9.48"/><circle cx="358.84" cy="329.67" r="9.48"/><circle cx="353.80" cy="151.86" r="9.48"/><circle cx="344.49" cy="277.37" r="9.48"/><circle cx="335.86" cy="293.25" r="9.48"/><circle cx="444.77" cy="222.66" r="9.48"/><circle cx="354.08" cy="156.21" r="9.48"/><circle cx="428.53" cy="163.55" r="9.48"/><circle cx="362.30" cy="357.03" r="9.48"/><circle cx="364.83" cy="325.22" r="9.48"/><circle cx="293.29" cy="350.87" r="9.48"/><circle cx="518.32" cy="336.22" r="9.48"/><circle cx="326.72" cy="277.31" r="9.48"/><circle cx="296.23" cy="361.41" r="9.48"/><circle cx="357.52" cy="423.33" r="9.48"/><circle cx="359.39" cy="339.65" r="9.48"/><circle cx="381.30" cy="187.12" r="9.48"/><circle cx="267.16" cy="150.72" r="9.48"/><circle cx="321.33" cy="354.48" r="9.48"/><circle cx="440.54" cy="243.38" r="9.48"/><circle cx="297.25" cy="329.73" r="9.48"/><circle cx="306.08" cy="329.04" r="9.48"/><circle cx="373.39" cy="378.96" r="9.48"/><circle cx="288.67" cy="460.62" r="9.48"/><circle cx="409.91" cy="155.31" r="9.48"/><circle cx="360.31" cy="245.71" r="9.48"/><circle cx="337.12" cy="479.94" r="9.48"/><circle cx="220.02" cy="349.44" r="9.48"/><circle cx="306.70" cy="177.68" r="9.48"/><circle cx="472.58" cy="308.45" r="9.48"/><circle cx="310.97" cy="300.68" r="9.48"/><circle cx="376.47" cy="241.37" r="9.48"/><circle cx="266.47" cy="228.61" r="9.48"/><circle cx="220.09" cy="261.38" r="9.48"/><circle cx="380.30" cy="280.56" r="9.48"/><circle cx="431.84" cy="184.85" r="9.48"/><circle cx="223.31" cy="163.67" r="9.48"/><circle cx="389.82" cy="297.44" r="9.48"/><circle cx="353.94" cy="336.86" r="9.48"/><circle cx="305.38" cy="316.97" r="9.48"/><circle cx="452.73" cy="286.48" r="9.48"/><circle cx="260.87" cy="379.27" r="9.48"/><circle cx="322.71" cy="260.07" r="9.48"/><circle cx="377.45" cy="434.52" r="9.48"/><circle cx="255.49" cy="117.01" r="9.48"/><circle cx="407.92" cy="542.36" r="9.48"/><circle cx="322.93" cy="302.46" r="9.48"/><circle cx="416.50" cy="323.38" r="9.48"/><circle cx="329.26" cy="268.62" r="9.48"/><circle cx="279.68" cy="355.14" r="9.48"/><circle cx="237.51" cy="101.09" r="9.48"/><circle cx="235.25" cy="331.09" r="9.48"/><circle cx="320.50" cy="315.95" r="9.48"/><circle cx="191.14" cy="216.54" r="9.48"/><circle cx="222.26" cy="255.04" r="9.48"/><circle cx="467.60" cy="301.73" r="9.48"/><circle cx="318.46" cy="333.38" r="9.48"/><circle cx="425.45" cy="339.25" r="9.48"/><circle cx="445.74" cy="440.44" r="9.48"/><circle cx="339.21" cy="261.17" r="9.48"/><circle cx="331.14" cy="277.67" r="9.48"/><circle cx="344.57" cy="412.36" r="9.48"/><circle cx="378.23" cy="334.98" r="9.48"/><circle cx="386.69" cy="201.80" r="9.48"/><circle cx="190.52" cy="202.99" r="9.48"/><circle cx="334.19" cy="428.36" r="9.48"/><circle cx="373.59" cy="245.63" r="9.48"/><circle cx="319.04" cy="306.61" r="9.48"/><circle cx="346.61" cy="282.98" r="9.48"/><circle cx="393.05" cy="396.84" r="9.48"/><circle cx="320.60" cy="336.77" r="9.48"/><circle cx="437.96" cy="503.97" r="9.48"/><circle cx="362.41" cy="384.82" r="9.48"/><circle cx="219.74" cy="345.76" r="9.48"/><circle cx="317.85" cy="200.34" r="9.48"/><circle cx="370.42" cy="413.68" r="9.48"/><circle cx="342.22" cy="290.81" r="9.48"/><circle cx="235.32" cy="309.94" r="9.48"/><circle cx="199.66" cy="441.20" r="9.48"/><circle cx="326.15" cy="292.55" r="9.48"/><circle cx="378.76" cy="175.30" r="9.48"/><circle cx="281.57" cy="233.16" r="9.48"/><circle cx="357.19" cy="215.88" r="9.48"/><circle cx="371.34" cy="337.37" r="9.48"/><circle cx="398.77" cy="231.56" r="9.48"/><circle cx="371.80" cy="532.19" r="9.48"/><circle cx="347.97" cy="431.25" r="9.48"/><circle cx="221.81" cy="333.86" r="9.48"/><circle cx="295.49" cy="308.26" r="9.48"/><circle cx="390.67" cy="271.38" r="9.48"/><circle cx="362.36" cy="252.89" r="9.48"/><circle cx="268.34" cy="359.61" r="9.48"/><circle cx="353.11" cy="361.56" r="9.48"/><circle cx="324.34" cy="349.61" r="9.48"/><circle cx="418.95" cy="368.80" r="9.48"/><circle cx="328.52" cy="329.33" r="9.48"/><circle cx="303.85" cy="238.81" r="9.48"/><circle cx="312.74" cy="276.22" r="9.48"/><circle cx="269.77" cy="357.75" r="9.48"/><circle cx="420.93" cy="380.60" r="9.48"/><circle cx="342.39" cy="327.50" r="9.48"/><circle cx="288.87" cy="336.85" r="9.48"/><circle cx="358.65" cy="207.94" r="9.48"/><circle cx="390.72" cy="523.12" r="9.48"/><circle cx="301.50" cy="405.98" r="9.48"/><circle cx="309.61" cy="261.96" r="9.48"/><circle cx="326.76" cy="258.22" r="9.48"/><circle cx="191.45" cy="376.86" r="9.48"/><circle cx="341.71" cy="336.92" r="9.48"/><circle cx="333.85" cy="155.77" r="9.48"/><circle cx="312.63" cy="417.30" r="9.48"/><circle cx="259.76" cy="157.51" r="9.48"/><circle cx="405.09" cy="289.44" r="9.48"/><circle cx="299.01" cy="223.27" r="9.48"/><circle cx="340.31" cy="365.60" r="9.48"/><circle cx="478.05" cy="419.24" r="9.48"/><circle cx="289.66" cy="282.10" r="9.48"/><circle cx="284.31" cy="280.01" r="9.48"/><circle cx="341.60" cy="356.46" r="9.48"/><circle cx="311.01" cy="397.27" r="9.48"/><circle cx="296.57" cy="200.65" r="9.48"/><circle cx="359.43" cy="438.80" r="9.48"/><circle cx="346.86" cy="188.98" r="9.48"/><circle cx="256.03" cy="371.78" r="9.48"/><circle cx="234.71" cy="488.10" r="9.48"/><circle cx="372.55" cy="121.15" r="9.48"/><circle cx="272.41" cy="283.86" r="9.48"/><circle cx="264.34" cy="414.64" r="9.48"/><circle cx="416.99" cy="351.95" r="9.48"/><circle cx="336.18" cy="389.85" r="9.48"/><circle cx="293.30" cy="289.60" r="9.48"/><circle cx="384.77" cy="305.97" r="9.48"/><circle cx="421.74" cy="430.11" r="9.48"/><circle cx="399.50" cy="294.90" r="9.48"/><circle cx="260.42" cy="378.94" r="9.48"/><circle cx="288.67" cy="260.87" r="9.48"/><circle cx="352.95" cy="263.66" r="9.48"/><circle cx="235.83" cy="321.14" r="9.48"/><circle cx="304.28" cy="389.39" r="9.48"/><circle cx="329.89" cy="360.55" r="9.48"/><circle cx="326.33" cy="409.54" r="9.48"/><circle cx="346.45" cy="242.78" r="9.48"/><circle cx="343.64" cy="195.77" r="9.48"/><circle cx="392.92" cy="313.54" r="9.48"/><circle cx="327.19" cy="287.64" r="9.48"/><circle cx="273.08" cy="336.94" r="9.48"/><circle cx="322.46" cy="298.33" r="9.48"/><circle cx="316.28" cy="148.86" r="9.48"/><circle cx="333.64" cy="294.43" r="9.48"/><circle cx="434.04" cy="197.52" r="9.48"/><circle cx="370.36" cy="295.69" r="9.48"/><circle cx="455.54" cy="442.32" r="9.48"/><circle cx="408.48" cy="425.59" r="9.48"/></g>
</defs>
<text x="96.2" y="36.5" font-size="29.33" font-weight="bold" fill="#000" xml:space="preserve">geom_point(aes(partition = set)) * (blend('lighten') + blend('multiply', alpha = 0.5))</text>
<text x="97.7" y="80.3" font-size="29.33" font-style="italic" fill="#000" textLength="902.8" lengthAdjust="spacing">Two order-independent blends on one layer using the distributive law.</text>
<rect x="96.40" y="102.1" width="543.0" height="55.60" fill="#E5E5E5"/>
<text x="367.90" y="138.7" font-size="23.47" fill="#000" text-anchor="middle">draw a then b</text>
<svg x="96.40" y="157.7" width="543.0" height="702.85" overflow="hidden">
<g class="l1"><use href="#A"/><g class="lighten"><use href="#B"/></g></g>
<g class="l2"><use href="#A"/><g class="multiply"><use href="#B"/></g></g>
<rect x="0" y="0" width="543.0" height="702.85" fill="none" stroke="#BFBFBF" stroke-width="2.84"/>
</svg>
<line x1="96.40" y1="157.7" x2="96.40" y2="861.26" stroke="#B3B3B3" stroke-width="1.42"/>
<line x1="96.40" y1="860.55" x2="639.40" y2="860.55" stroke="#B3B3B3" stroke-width="1.42"/>
<line class="tick" x1="218.32" y1="861.26" x2="218.32" y2="867.86"/>
<text class="axl" x="218.32" y="891.9" text-anchor="middle">-2</text>
<line class="tick" x1="357.63" y1="861.26" x2="357.63" y2="867.86"/>
<text class="axl" x="357.63" y="891.9" text-anchor="middle">0</text>
<line class="tick" x1="496.94" y1="861.26" x2="496.94" y2="867.86"/>
<text class="axl" x="496.94" y="891.9" text-anchor="middle">2</text>
<line class="tick" x1="636.25" y1="861.26" x2="636.25" y2="867.86"/>
<text class="axl" x="636.25" y="891.9" text-anchor="middle">4</text>
<line class="tick" x1="89.09" y1="837.03" x2="95.69" y2="837.03"/>
<text class="axl" x="83.25" y="846.33" text-anchor="end">-2</text>
<line class="tick" x1="89.09" y1="656.40" x2="95.69" y2="656.40"/>
<text class="axl" x="83.25" y="665.70" text-anchor="end">0</text>
<line class="tick" x1="89.09" y1="475.76" x2="95.69" y2="475.76"/>
<text class="axl" x="83.25" y="485.06" text-anchor="end">2</text>
<line class="tick" x1="89.09" y1="295.13" x2="95.69" y2="295.13"/>
<text class="axl" x="83.25" y="304.43" text-anchor="end">4</text>
<rect x="654.15" y="102.1" width="543.0" height="55.60" fill="#E5E5E5"/>
<text x="925.65" y="138.7" font-size="23.47" fill="#000" text-anchor="middle">draw b then a</text>
<svg x="654.15" y="157.7" width="543.0" height="702.85" overflow="hidden">
<g class="l1"><use href="#A"/><g class="lighten"><use href="#B"/></g></g>
<g class="l2"><use href="#A"/><g class="multiply"><use href="#B"/></g></g>
<rect x="0" y="0" width="543.0" height="702.85" fill="none" stroke="#BFBFBF" stroke-width="2.84"/>
</svg>
<line x1="654.15" y1="860.55" x2="1197.15" y2="860.55" stroke="#B3B3B3" stroke-width="1.42"/>
<line class="tick" x1="776.07" y1="861.26" x2="776.07" y2="867.86"/>
<text class="axl" x="776.07" y="891.9" text-anchor="middle">-2</text>
<line class="tick" x1="915.38" y1="861.26" x2="915.38" y2="867.86"/>
<text class="axl" x="915.38" y="891.9" text-anchor="middle">0</text>
<line class="tick" x1="1054.69" y1="861.26" x2="1054.69" y2="867.86"/>
<text class="axl" x="1054.69" y="891.9" text-anchor="middle">2</text>
<line class="tick" x1="1194.00" y1="861.26" x2="1194.00" y2="867.86"/>
<text class="axl" x="1194.00" y="891.9" text-anchor="middle">4</text>
<text x="646.77" y="937.8" font-size="29.33" fill="#000" text-anchor="middle">x</text>
<text transform="translate(36.5,509.12) rotate(-90)" font-size="29.33" fill="#000" text-anchor="middle">y</text>
<text x="1241.1" y="466.3" font-size="29.33" fill="#000">set</text>
<circle cx="1264.15" cy="508.15" r="9.48" fill="#E41A1C" stroke="#E41A1C" fill-opacity=".5" stroke-opacity=".5" stroke-width="1.89"/>
<circle cx="1264.15" cy="508.15" r="9.48" fill="#E41A1C" stroke="#E41A1C" fill-opacity=".5" stroke-opacity=".5" stroke-width="1.89"/>
<text x="1302.0" y="516.8" font-size="23.47" fill="#000">a</text>
<circle cx="1264.15" cy="554.23" r="9.48" fill="#377EB8" stroke="#377EB8" fill-opacity=".5" stroke-opacity=".5" stroke-width="1.89"/>
<circle cx="1264.15" cy="554.23" r="9.48" fill="#377EB8" stroke="#377EB8" fill-opacity=".5" stroke-opacity=".5" stroke-width="1.89"/>
<text x="1302.0" y="562.3" font-size="23.47" fill="#000">b</text>
</svg></body></html>
